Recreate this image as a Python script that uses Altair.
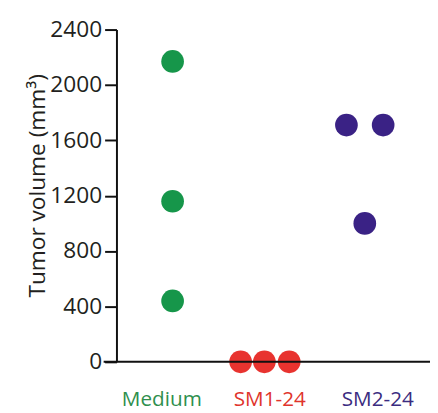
import altair as alt
import pandas as pd

# data
groups = ["Medium", "Medium", "Medium", "SM1-24", "SM1-24", "SM1-24", "SM2-24", "SM2-24", "SM2-24"]
positions = [1.10, 1.10, 1.10, 1.73, 1.95, 2.18, 2.71, 3.05, 2.88]
volumes = [2170, 1160, 440, 0, 0, 0, 1710, 1710, 1000]

categories = ["Medium", "SM1-24", "SM2-24"]
category_pos = [1, 2, 3]
point_colors = ["#16964a", "#e8332f", "#3a2285"]
label_colors = ["#2f8f4e", "#e0342c", "#3b2c80"]
y_ticks = [0, 400, 800, 1200, 1600, 2000, 2400]

FONT = "Open Sans"
W, H = 318, 337

pts = pd.DataFrame({"group": groups, "pos": positions, "volume": volumes})
labs = pd.DataFrame({"group": categories, "pos": category_pos})

xscale = alt.Scale(domain=[0.58, 3.484], nice=False, zero=False)
yscale = alt.Scale(domain=[0, 2400], nice=False)
color_scale = alt.Scale(domain=categories, range=point_colors)

points = alt.Chart(pts).mark_circle(size=530, opacity=1).encode(
    x=alt.X("pos:Q", scale=xscale, axis=None),
    y=alt.Y(
        "volume:Q",
        scale=yscale,
        axis=alt.Axis(
            values=y_ticks,
            format="d",
            title="Tumor volume (mm³)",
            titleFont=FONT,
            titleFontSize=23,
            titleFontWeight="normal",
            titleColor="#231f20",
            titleAngle=-90,
            titleAlign="center",
            titleBaseline="alphabetic",
            titleX=-73,
            titleY=158,
            labelFont=FONT,
            labelFontSize=23,
            labelColor="#231f20",
            labelPadding=3,
            domainColor="#111111",
            domainWidth=2,
            tickColor="#111111",
            tickWidth=2,
            tickSize=12,
            grid=False,
        ),
    ),
    color=alt.Color("group:N", scale=color_scale, legend=None),
)

xline = alt.Chart(pd.DataFrame({"v": [0]})).mark_rule(color="#111111", strokeWidth=2).encode(
    y=alt.Y("v:Q", scale=yscale),
    x=alt.value(-13),
    x2=alt.value(W),
)

labels = alt.Chart(labs).mark_text(
    font=FONT, fontSize=21, baseline="alphabetic", align="center"
).encode(
    x=alt.X("pos:Q", scale=xscale, axis=None),
    y=alt.value(382),
    text="group:N",
    color=alt.Color("group:N", scale=alt.Scale(domain=categories, range=label_colors), legend=None),
)

chart = alt.layer(points, xline, labels).resolve_scale(color="independent").properties(
    width=W,
    height=H,
    autosize=alt.AutoSizeParams(type="none"),
    padding={"left": 110, "top": 19, "right": 0, "bottom": 48},
).configure(background="white").configure_view(stroke=None, strokeWidth=0)

chart.save("out.html", embed_options={"renderer": "svg", "actions": False})
